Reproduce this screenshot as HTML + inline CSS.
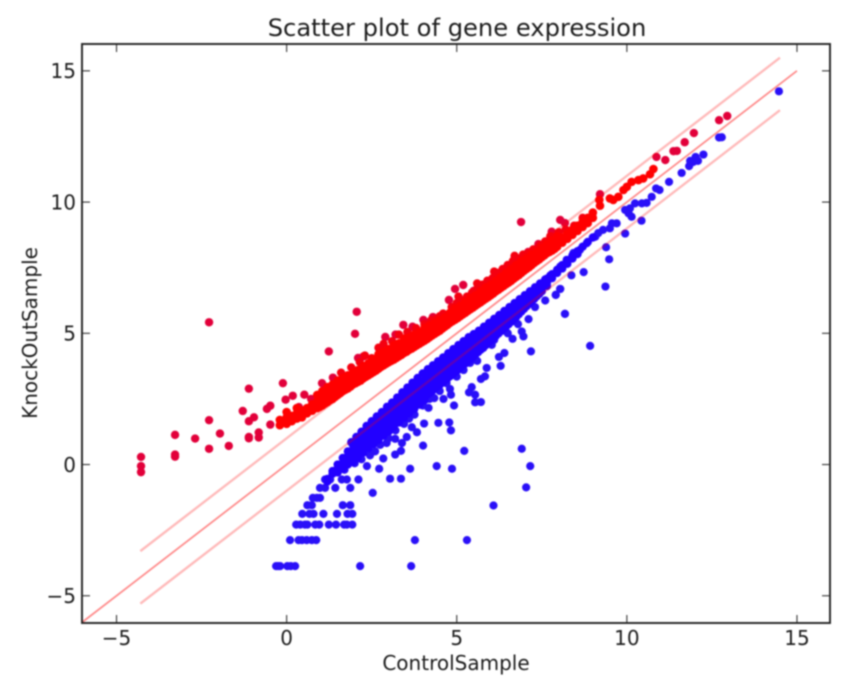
<!DOCTYPE html>
<html>
<head>
<meta charset="utf-8">
<title>Scatter plot of gene expression</title>
<style>
html,body{margin:0;padding:0;background:#fff;width:864px;height:681px;overflow:hidden}
svg{display:block;filter:blur(.7px)}
text{font-family:"DejaVu Sans","Liberation Sans",sans-serif;fill:#1c1c1c}
</style>
</head>
<body>
<svg id="chart" xmlns="http://www.w3.org/2000/svg" width="864" height="681" viewBox="0 0 864 681">
<rect x="82" y="44" width="748" height="579" fill="#fff"/>
<g id="blue"></g>
<g id="red"></g>
<g id="lines"></g>
<g id="ticks"></g>
<rect x="82" y="44" width="748" height="579" fill="none" stroke="#222" stroke-width="1.9"/>
<text x="457" y="36" font-size="24.2" text-anchor="middle">Scatter plot of gene expression</text>
<text x="456" y="670" font-size="20" text-anchor="middle">ControlSample</text>
<text x="0" y="0" font-size="20" text-anchor="middle" transform="translate(37,333) rotate(-90)">KnockOutSample</text>
</svg>
<script>
const xTicks = [-5, 0, 5, 10, 15];
const yTicks = [-5, 0, 5, 10, 15];
const xDomain = [-6, 16];
const yDomain = [-6, 16];
const diagonalLine = [[-6, -6], [15, 15]];
const upperLine = [[-4.3, -3.3], [14.5, 15.5]];
const lowerLine = [[-4.3, -5.3], [14.5, 13.5]];

const redOutliers = [[-4.28,.29],[-4.28,-.06],[-4.28,-.29],[-3.28,1.13],[-3.28,.38],[-3.28,.3],[-2.69,.99],[-2.28,5.42],[-2.28,1.69],[-2.28,.6],[-1.96,1.18],[-1.7,.71],[-1.29,2.04],[-1.11,2.89],[-1.11,1.65],[-.96,1.8],[-1.11,1.05],[-1.11,1],[-.82,1.22],[-.82,1.03],[-.58,2.12],[-.48,2.24],[-.48,1.52],[-.11,3.1],[-.03,2.47],[.18,2.62],[.52,2.66],[.72,2.5],[.36,2.19],[1.04,3.1],[1.36,3.31],[1.24,4.31],[2.01,4.98],[2.06,5.82],[2.1,4.06],[2.26,4.12],[2.9,4.86],[3.43,5.32],[4.02,5.51],[4.95,6.69],[5.19,6.84],[4.77,6.27],[6.89,9.24],[12.95,13.28],[12.71,13.12],[11.97,12.63],[11.7,12.28],[11.37,11.94],[11.47,11.95],[11.13,11.6],[10.87,11.72],[9.21,10.3],[8.04,9.32],[8.18,9.2],[7.79,8.87],[3.2,4.95],[3.7,5.25],[4.3,5.62],[5.5,6.62],[5.9,7],[6.2,7.3],[6.5,7.6],[7.1,8.1],[7.4,8.4]];
const redBand = [[-.2,1.5],[-.2,1.7],[0,1.55],[0,1.8],[0,2],[.15,1.65],[.15,1.85],[.3,1.75],[.3,1.95],[.3,2.15],[.45,1.8],[.45,2.05],[.6,1.95],[.6,2.15],[.75,2.05],[.75,2.3],[.9,2.15],[.9,2.4],[.9,2.65],[1.05,2.25],[1.05,2.5],[1.05,2.8],[1.2,2.38],[1.2,2.65],[1.2,2.95],[1.35,2.5],[1.35,2.8],[1.35,3.05],[1.5,2.65],[1.5,2.9],[1.5,3.2],[1.65,2.8],[1.65,3.05],[1.65,3.3],[1.8,2.9],[1.8,3.15],[1.8,3.4],[1.95,3.05],[1.95,3.3],[1.95,3.5],[2.1,3.15],[2.1,3.4],[2.1,3.6],[2.25,3.28],[2.25,3.5],[2.25,3.75],[2.4,3.4],[2.4,3.65],[2.4,3.85],[2.55,3.52],[2.55,3.75],[2.55,4],[2.7,3.65],[2.7,3.9],[2.7,4.2],[2.85,3.78],[2.85,4],[2.85,4.3],[3,3.9],[3,4.12],[3,4.4],[3.15,4],[3.15,4.25],[3.15,4.55],[3.3,4.12],[3.3,4.35],[3.3,4.62],[3.45,4.25],[3.45,4.48],[3.45,4.8],[3.6,4.37],[3.6,4.6],[3.6,4.85],[3.75,4.48],[3.75,4.7],[3.75,4.95],[3.9,4.6],[3.9,4.82],[3.9,5.05],[4.05,4.72],[4.05,4.93],[4.05,5.2],[4.2,4.85],[4.2,5.05],[4.2,5.3],[4.35,4.98],[4.35,5.18],[4.35,5.4],[4.5,5.1],[4.5,5.3],[4.5,5.5],[4.65,5.25],[4.65,5.45],[4.65,5.6],[4.8,5.4],[4.8,5.6],[4.8,5.78],[4.95,5.52],[4.95,5.7],[4.95,5.95],[5.1,5.65],[5.1,5.85],[5.1,6.05],[5.25,5.78],[5.25,5.98],[5.25,6.2],[5.4,5.92],[5.4,6.1],[5.4,6.35],[5.55,6.05],[5.55,6.25],[5.55,6.45],[5.7,6.18],[5.7,6.4],[5.7,6.6],[5.85,6.32],[5.85,6.5],[5.85,6.75],[6,6.45],[6,6.65],[6,6.85],[6.15,6.6],[6.15,6.8],[6.15,7],[6.3,6.73],[6.3,6.92],[6.3,7.15],[6.45,6.87],[6.45,7.05],[6.45,7.3],[6.6,7],[6.6,7.2],[6.6,7.45],[6.75,7.15],[6.75,7.35],[6.75,7.6],[6.9,7.3],[6.9,7.5],[6.9,7.75],[7.05,7.45],[7.05,7.65],[7.05,7.85],[7.2,7.6],[7.2,7.8],[7.2,8],[7.35,7.75],[7.35,7.95],[7.35,8.1],[7.5,7.9],[7.5,8.05],[7.5,8.25],[7.65,8.05],[7.65,8.2],[7.65,8.4],[7.8,8.15],[7.8,8.35],[7.8,8.55],[7.95,8.3],[7.95,8.5],[7.95,8.7],[8.1,8.45],[8.1,8.65],[8.25,8.6],[8.25,8.8],[8.4,8.75],[8.4,8.95],[8.55,8.9],[8.55,9.1],[8.7,9.05],[8.7,9.25],[8.85,9.2],[8.85,9.4],[9,9.4],[9,9.6],[9.19,10.08],[9.21,9.86],[9.5,10.14],[9.6,10.08],[9.75,10.2],[9.9,10.46],[10,10.58],[10.14,10.77],[10.34,10.84],[10.48,10.9],[10.68,11.06],[10.78,11.26]];
const redUpperFringe = [[1.6,3.5],[1.9,3.7],[2.15,3.9],[2.3,4.15],[2.5,4.05],[2.7,4.45],[2.85,4.6],[3.1,4.7],[3.3,4.95],[3.55,5.05],[3.8,5.2],[4.05,5.35],[4.25,5.5],[4.4,5.55],[4.6,5.75],[4.85,6],[5,6.15],[5.15,6.25],[5.3,6.4],[5.45,6.55],[5.6,6.7],[5.75,6.85],[5.9,7],[6.05,7.1],[6.2,7.3],[6.35,7.45],[6.5,7.6],[6.65,7.75],[6.8,7.85],[6.95,8],[7.1,8.05],[7.25,8.2],[7.45,8.35],[7.6,8.5],[7.75,8.7],[8,8.85],[8.2,8.95],[8.45,9.1],[8.7,9.4],[4.5,5.65],[5.05,6.4],[5.6,6.9],[6.1,7.35],[6.7,7.95]];
const redFill = [[.975,2.2],[.975,2.55],[1.125,2.32],[1.125,2.6],[1.275,2.45],[1.275,2.75],[1.425,2.58],[1.425,2.88],[1.575,2.72],[1.575,3],[1.725,2.85],[1.725,3.12],[1.875,2.97],[1.875,3.25],[2.025,3.1],[2.025,3.35],[2.175,3.2],[2.175,3.48],[2.325,3.34],[2.325,3.6],[2.475,3.46],[2.475,3.72],[2.625,3.58],[2.625,3.85],[2.775,3.72],[2.775,3.98],[2.925,3.84],[2.925,4.1],[3.075,3.95],[3.075,4.2],[3.225,4.06],[3.225,4.32],[3.375,4.18],[3.375,4.45],[3.525,4.3],[3.525,4.57],[3.675,4.42],[3.675,4.68],[3.825,4.54],[3.825,4.8],[3.975,4.66],[3.975,4.9],[4.125,4.78],[4.125,5.02],[4.275,4.92],[4.275,5.15],[4.425,5.04],[4.425,5.26],[4.575,5.18],[4.575,5.4],[4.725,5.32],[4.725,5.55],[4.875,5.46],[4.875,5.68],[5.025,5.58],[5.025,5.8],[5.175,5.72],[5.175,5.95],[5.325,5.85],[5.325,6.08],[5.475,5.98],[5.475,6.2],[5.625,6.12],[5.625,6.35],[5.775,6.25],[5.775,6.48],[5.925,6.38],[5.925,6.6],[6.075,6.52],[6.075,6.75],[6.225,6.66],[6.225,6.88],[6.375,6.8],[6.375,7.05],[6.525,6.93],[6.525,7.2],[6.675,7.08],[6.675,7.35],[6.825,7.22],[6.825,7.5],[6.975,7.38],[6.975,7.6],[7.125,7.52],[7.125,7.75],[7.275,7.68],[7.275,7.88],[7.425,7.82],[7.425,8],[7.575,7.97],[7.575,8.15],[7.725,8.1],[7.725,8.3],[7.875,8.22],[7.875,8.45]];

const blueOutliers = [[14.47,14.22],[12.71,12.46],[12.79,12.47],[12.25,11.81],[12.02,11.72],[12.09,11.57],[11.95,11.53],[11.86,11.57],[11.83,11.37],[11.61,11.11],[11.24,10.77],[10.96,10.46],[10.86,10.52],[10.73,10.2],[10.58,9.97],[10.44,9.95],[10.24,9.95],[10.09,9.76],[9.95,9.7],[10.05,9.57],[10.14,9.44],[10.43,9.29],[9.95,8.8],[9.7,9.19],[9.56,9.19],[9.5,9],[9.3,8.94],[9.16,8.82],[9.07,8.68],[8.82,8.43],[8.62,8.18],[8.43,8.06],[8.23,7.8],[8.04,7.54],[9.39,8.28],[9.48,7.82],[9.37,6.78],[8.73,7.33],[8.37,7.21],[8.04,6.69],[7.91,6.47],[8.18,5.74],[8.92,4.52],
[-.31,-3.87],[-.19,-3.87],[-.25,-3.87],[.02,-3.87],[.12,-3.87],[.25,-3.87],[2.16,-3.87],[3.66,-3.87],
[.1,-2.88],[.35,-2.88],[.45,-2.88],[.59,-2.88],[.74,-2.88],[.87,-2.88],[3.77,-2.88],[5.3,-2.88],
[.28,-2.29],[.4,-2.29],[.54,-2.29],[.61,-2.29],[.84,-2.29],[.96,-2.29],[1.24,-2.29],[1.45,-2.29],[1.69,-2.29],[1.77,-2.29],[1.93,-2.29],
[.46,-1.88],[.67,-1.88],[.79,-1.88],[1.08,-1.88],[1.48,-1.88],[1.79,-1.88],[1.93,-1.88],
[.61,-1.55],[.74,-1.55],[1.65,-1.55],[1.87,-1.55],[.77,-1.27],[.89,-1.27],[.98,-1.27],
[.98,-.89],[1.13,-.89],[1.43,-.89],[1.87,-.89],[1.13,-.57],[1.28,-.57],[1.62,-.57],[1.77,-.57],[2.11,-.57],
[2.53,-1.08],[3.04,-.54],[3.36,-.54],[2.72,-.16],[3.63,-.16],[4.41,-.06],[4.86,-.16],[2.36,-.06],
[6.08,-1.56],[7.04,-.87],[7.16,-.06],[6.91,.6],[5.22,.52],[4.01,.72],[3.36,.52],[3.19,.38],[2.84,.23],[3.39,.82],[2.94,.82],[3.19,.98],[3.53,1.05],[3.83,1.23],[3.68,1.42],[4.04,1.56],[4.46,1.59],[4.78,1.6],[4.83,1.3],[3.76,1.9],[4.17,2.16],[4.92,2.25],[4.34,2.53],[4.61,2.5],[4.8,2.88],[4.83,2.66],[5.54,2.37],[5.71,2.38],[5.36,2.75],[5.44,2.95],[5.54,2.66],[5.71,3.26],[5.83,3.36],[5.88,3.68],[6.29,3.76],[6.24,4.1],[6.4,4.25],[7.18,4.31],[6.64,4.79],[6.96,4.88],[6.91,5.07],[7.11,5.54],[5.78,4.44],[6.03,4.56],[5.39,3.87],[8.18,5.74],[7.91,6.46],[8.04,6.69],[1.7,-.2],[2,.05],[2.2,.2],[2.45,.35],[2.6,.5],[2.75,.75],[3,1],[3.2,1.3],[3.45,1.55],[3.6,1.75],[4,2.25],[4.2,2.5],[4.5,2.8],[4.7,3.1],[5,3.35],[5.2,3.6],[5.6,3.95],[6.1,4.75],[6.5,5],[6.8,5.35],[7.3,6],[7.6,6.25]];
const blueBand = [[1.2,-.55],[1.2,-.65],[1.35,-.25],[1.35,-.35],[1.5,0],[1.5,-.15],[1.5,-.3],[1.65,.25],[1.65,.05],[1.65,-.15],[1.8,.5],[1.8,.3],[1.8,.1],[1.95,.75],[1.95,.55],[1.95,.3],[2.1,.98],[2.1,.75],[2.1,.48],[2.25,1.2],[2.25,.95],[2.25,.68],[2.4,1.37],[2.4,1.1],[2.4,.85],[2.55,1.53],[2.55,1.27],[2.55,1],[2.7,1.7],[2.7,1.45],[2.7,1.18],[2.85,1.9],[2.85,1.62],[2.85,1.37],[3,2.08],[3,1.8],[3,1.52],[3.15,2.25],[3.15,1.97],[3.15,1.68],[3.3,2.42],[3.3,2.12],[3.3,1.82],[3.45,2.58],[3.45,2.3],[3.45,2],[3.6,2.74],[3.6,2.45],[3.6,2.12],[3.75,2.9],[3.75,2.6],[3.75,2.27],[3.9,3.05],[3.9,2.75],[3.9,2.42],[4.05,3.2],[4.05,2.9],[4.05,2.57],[4.2,3.36],[4.2,3.06],[4.2,2.72],[4.35,3.51],[4.35,3.2],[4.35,2.88],[4.5,3.67],[4.5,3.35],[4.5,3.04],[4.65,3.82],[4.65,3.5],[4.65,3.2],[4.8,3.98],[4.8,3.66],[4.8,3.36],[4.95,4.14],[4.95,3.83],[4.95,3.52],[5.1,4.3],[5.1,3.99],[5.1,3.68],[5.25,4.45],[5.25,4.15],[5.25,3.85],[5.4,4.6],[5.4,4.3],[5.4,4.02],[5.55,4.76],[5.55,4.47],[5.55,4.2],[5.7,4.91],[5.7,4.63],[5.7,4.37],[5.85,5.07],[5.85,4.8],[5.85,4.55],[6,5.22],[6,4.96],[6,4.72],[6.15,5.38],[6.15,5.12],[6.15,4.9],[6.3,5.53],[6.3,5.3],[6.3,5.08],[6.45,5.68],[6.45,5.47],[6.45,5.26],[6.6,5.85],[6.6,5.64],[6.6,5.44],[6.75,6.02],[6.75,5.82],[6.75,5.63],[6.9,6.2],[6.9,6],[6.9,5.83],[7.05,6.37],[7.05,6.18],[7.05,6.03],[7.2,6.55],[7.2,6.37],[7.2,6.22],[7.35,6.72],[7.35,6.55],[7.35,6.41],[7.5,6.9],[7.5,6.75],[7.5,6.6],[7.65,7.08],[7.65,6.93],[7.65,6.8],[7.8,7.25],[7.8,7.1],[7.95,7.42],[7.95,7.3],[8.1,7.6],[8.1,7.47],[8.25,7.78],[8.25,7.65],[8.4,7.96],[8.4,7.85],[8.55,8.13],[8.55,8.02],[8.7,8.3],[8.85,8.48],[9,8.65]];
const blueUpperEdge = [[1.9,.85],[2.05,1.05],[2.2,1.25],[2.35,1.47],[2.5,1.65],[2.65,1.83],[2.8,2],[2.95,2.2],[3.1,2.36],[3.25,2.55],[3.4,2.75],[3.55,2.93],[3.7,3.12],[3.85,3.3],[4,3.47],[4.15,3.63],[4.3,3.78],[4.45,3.93],[4.6,4.08],[4.75,4.24],[4.9,4.4],[5.05,4.55],[5.2,4.7],[5.35,4.85],[5.5,4.97],[5.65,5.1],[5.8,5.25],[5.95,5.4],[6.1,5.55],[6.25,5.7],[6.4,5.85],[6.55,6],[6.7,6.15],[6.85,6.3],[7,6.45],[7.15,6.6],[7.3,6.75],[7.45,6.9],[7.6,7.05],[7.75,7.2]];
const blueLowerEdge = [[1.8,0],[1.95,.1],[2.1,.25],[2.25,.45],[2.4,.62],[2.55,.78],[2.7,.93],[2.85,1.1],[3,1.26],[3.15,1.43],[3.3,1.6],[3.45,1.78],[3.6,1.95],[3.75,2.12],[3.9,2.28],[4.05,2.45]];
const blueFill = [[2.025,.9],[2.025,.65],[2.025,.42],[2.175,1.1],[2.175,.85],[2.175,.6],[2.325,1.3],[2.325,1.05],[2.325,.75],[2.475,1.48],[2.475,1.2],[2.475,.92],[2.625,1.62],[2.625,1.37],[2.625,1.1],[2.775,1.82],[2.775,1.55],[2.775,1.27],[2.925,2],[2.925,1.72],[2.925,1.45],[3.075,2.17],[3.075,1.9],[3.075,1.6],[3.225,2.35],[3.225,2.05],[3.225,1.76],[3.375,2.5],[3.375,2.22],[3.375,1.92],[3.525,2.67],[3.525,2.38],[3.525,2.05],[3.675,2.83],[3.675,2.53],[3.675,2.2],[3.825,2.97],[3.825,2.68],[3.825,2.35],[3.975,3.13],[3.975,2.83],[3.975,2.5],[4.125,3.28],[4.125,2.98],[4.125,2.65],[4.275,3.44],[4.275,3.13],[4.275,2.8],[4.425,3.6],[4.425,3.28],[4.425,2.96],[4.575,3.75],[4.575,3.43],[4.575,3.12],[4.725,3.9],[4.725,3.58],[4.725,3.28],[4.875,4.06],[4.875,3.75],[4.875,3.44],[5.025,4.22],[5.025,3.91],[5.025,3.6],[5.175,4.38],[5.175,4.07],[5.175,3.77],[5.325,4.53],[5.325,4.23],[5.325,3.94],[5.475,4.68],[5.475,4.38],[5.475,4.1],[5.625,4.84],[5.625,4.55],[5.625,4.28],[5.775,4.99],[5.775,4.72],[5.775,4.46],[5.925,5.15],[5.925,4.88],[5.925,4.63],[6.075,5.3],[6.075,5.04],[6.075,4.81],[6.225,5.46],[6.225,5.21],[6.225,4.99],[6.375,5.6],[6.375,5.38],[6.375,5.17],[6.525,5.76],[6.525,5.55],[6.525,5.35],[6.675,5.93],[6.675,5.73],[6.675,5.53],[6.825,6.1],[6.825,5.91],[6.825,5.73],[6.975,6.28],[6.975,6.09],[6.975,5.93],[7.125,6.46],[7.125,6.27],[7.125,6.12],[7.275,6.63],[7.275,6.46],[7.275,6.31],[7.425,6.81],[7.425,6.65],[7.425,6.5]];

const NS = 'http://www.w3.org/2000/svg';
const plotLeft = 82.5, plotRight = 831, plotTop = 44.6, plotBottom = 622;
function xScale(v) { return plotLeft + (v - xDomain[0]) / (xDomain[1] - xDomain[0]) * (plotRight - plotLeft); }
function yScale(v) { return plotBottom - (v - yDomain[0]) / (yDomain[1] - yDomain[0]) * (plotBottom - plotTop); }
function tickLabel(v) { return v < 0 ? '\u2212' + Math.abs(v) : String(v); }

function drawDots(parentId, points, fill, radius, name) {
  const parent = document.getElementById(parentId);
  points.forEach(function (p) {
    const c = document.createElementNS(NS, 'circle');
    c.setAttribute('cx', xScale(p[0]));
    c.setAttribute('cy', yScale(p[1]));
    c.setAttribute('r', radius);
    c.setAttribute('fill', fill);
    
    
    parent.appendChild(c);
  });
}
drawDots('blue', blueOutliers, '#2a10f8', 4.1, 'blue-point');
drawDots('blue', blueBand, '#2200ff', 4.2, 'blue-point');
drawDots('blue', blueUpperEdge, '#2200ff', 4.2, 'blue-point');
drawDots('blue', blueLowerEdge, '#2200ff', 4.2, 'blue-point');
drawDots('blue', blueFill, '#2200ff', 4.2, 'blue-point');
drawDots('red', redOutliers, '#e2003a', 4.2, 'red-point');
drawDots('red', redUpperFringe, '#f50010', 4.2, 'red-point');
drawDots('red', redBand, '#ff0000', 4.3, 'red-point');
drawDots('red', redFill, '#ff0000', 4.3, 'red-point');

function drawLine(pts, opacity, width, name) {
  const l = document.createElementNS(NS, 'line');
  l.setAttribute('x1', xScale(pts[0][0]));
  l.setAttribute('y1', yScale(pts[0][1]));
  l.setAttribute('x2', xScale(pts[1][0]));
  l.setAttribute('y2', yScale(pts[1][1]));
  l.setAttribute('stroke', '#ff0000');
  l.setAttribute('stroke-opacity', opacity);
  l.setAttribute('stroke-width', width);
  
  
  document.getElementById('lines').appendChild(l);
}
drawLine(diagonalLine, 0.45, 1.8, 'identity-line');
drawLine(upperLine, 0.27, 2.4, 'upper-fold-line');
drawLine(lowerLine, 0.27, 2.4, 'lower-fold-line');

const tickGroup = document.getElementById('ticks');
function drawTick(x1, y1, x2, y2, name) {
  const t = document.createElementNS(NS, 'line');
  t.setAttribute('x1', x1);
  t.setAttribute('y1', y1);
  t.setAttribute('x2', x2);
  t.setAttribute('y2', y2);
  t.setAttribute('stroke', '#333');
  t.setAttribute('stroke-width', 1.1);
  
  
  tickGroup.appendChild(t);
}
function drawLabel(x, y, anchor, str, name) {
  const t = document.createElementNS(NS, 'text');
  t.setAttribute('x', x);
  t.setAttribute('y', y);
  t.setAttribute('font-size', 20);
  t.setAttribute('text-anchor', anchor);
  
  
  t.textContent = str;
  tickGroup.appendChild(t);
}
xTicks.forEach(function (v) {
  const x = xScale(v);
  drawTick(x, 623, x, 615, 'x-tick');
  drawTick(x, 44, x, 52, 'x-tick');
  drawLabel(x, 645, 'middle', tickLabel(v), 'x-tick-label');
});
yTicks.forEach(function (v) {
  const y = yScale(v);
  drawTick(82, y, 90, y, 'y-tick');
  drawTick(830, y, 822, y, 'y-tick');
  drawLabel(76, y + 7.3, 'end', tickLabel(v), 'y-tick-label');
});
</script>
</body>
</html>
